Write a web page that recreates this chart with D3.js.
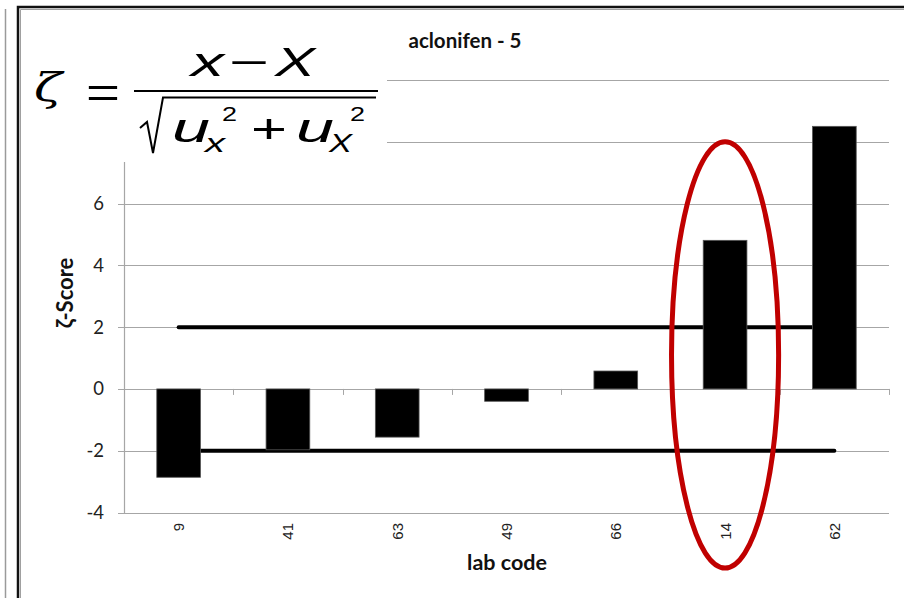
<!DOCTYPE html>
<html>
<head>
<meta charset="utf-8">
<script src="https://cdn.jsdelivr.net/npm/d3@7"></script>
<style>
  html, body { margin: 0; padding: 0; background: #fff; }
  svg { display: block; }
</style>
</head>
<body>
<svg id="chart" width="904" height="598"></svg>
<script>
// ---- data ----
const labCodes = ["9", "41", "63", "49", "66", "14", "62"];
const zScores = [-2.86, -1.97, -1.56, -0.40, 0.58, 4.81, 8.50];
const upperLimit = [2, 2, 2, 2, 2, 2, 2];
const lowerLimit = [-2, -2, -2, -2, -2, -2, -2];
const yTicks = [-4, -2, 0, 2, 4, 6, 8, 10];
const yTickLabels = ["-4", "-2", "0", "2", "4", "6", "8", "10"];
const chartTitle = "aclonifen - 5";
const xTitle = "lab code";
const yTitle = "ζ-Score";
const highlighted = "14";

const svg = d3.select("#chart");

// outer frame
svg.append("line").attr("x1", 5.5).attr("x2", 5.5).attr("y1", 9).attr("y2", 598)
  .attr("stroke", "#9a9a9a").attr("stroke-width", 1.5);
svg.append("path").attr("d", "M18,598 V7 H904").attr("fill", "none")
  .attr("stroke", "#111").attr("stroke-width", 2.5);
svg.append("path").attr("d", "M20.5,598 V9.5 H904").attr("fill", "none")
  .attr("stroke", "#a0a0a0").attr("stroke-width", 1);

// scales
const x = d3.scaleBand().domain(labCodes).range([124, 889]).padding(0);
const y = d3.scaleLinear().domain([-4, 10]).range([512.5, 80]);
const barW = x.bandwidth() * 0.4;
const cx = d => x(d) + x.bandwidth() / 2;

const grid = "#a6a6a6";

// gridlines + y ticks
svg.append("g").selectAll("line").data(yTicks).join("line")
  .attr("x1", 118).attr("x2", 889)
  .attr("y1", d => Math.round(y(d)) + 0.5).attr("y2", d => Math.round(y(d)) + 0.5)
  .attr("stroke", grid).attr("stroke-width", 1.2);

// y axis line
svg.append("line").attr("x1", 124.5).attr("x2", 124.5)
  .attr("y1", y(10)).attr("y2", y(-4) + 0.5)
  .attr("stroke", grid).attr("stroke-width", 1.2);

// x tick marks at y=0
const bounds = d3.range(labCodes.length + 1).map(i => 124 + i * x.step());
svg.append("g").selectAll("line").data(bounds).join("line")
  .attr("x1", d => Math.round(d) + 0.5).attr("x2", d => Math.round(d) + 0.5)
  .attr("y1", y(0)).attr("y2", y(0) + 6)
  .attr("stroke", grid).attr("stroke-width", 1);

// y tick labels
svg.append("g").selectAll("text").data(yTicks.filter(d => d <= 6)).join("text")
  .attr("x", 104).attr("y", d => y(d) + 6.5)
  .attr("text-anchor", "end")
  .attr("font-family", "Lato, 'Open Sans', sans-serif").attr("font-size", 18.5)
  .attr("fill", "#222")
  .text(d => yTickLabels[yTicks.indexOf(d)]);

// limit lines
const line = d3.line().x((d, i) => cx(labCodes[i])).y(d => y(d));
svg.append("path").datum(upperLimit).attr("d", line)
  .attr("fill", "none").attr("stroke", "#000").attr("stroke-width", 4).attr("stroke-linecap", "round");
svg.append("path").datum(lowerLimit).attr("d", line)
  .attr("fill", "none").attr("stroke", "#000").attr("stroke-width", 4).attr("stroke-linecap", "round");

// bars
svg.append("g").selectAll("rect").data(zScores).join("rect")
  .attr("x", (d, i) => cx(labCodes[i]) - barW / 2)
  .attr("width", barW)
  .attr("y", d => Math.min(y(d), y(0)))
  .attr("height", d => Math.abs(y(d) - y(0)))
  .attr("fill", "#000").attr("stroke", "#555").attr("stroke-width", 0.8);

// x tick labels (rotated)
svg.append("g").selectAll("text").data(labCodes).join("text")
  .attr("transform", d => `translate(${cx(d) + 5.5},523) rotate(-90)`)
  .attr("text-anchor", "end")
  .attr("font-family", "'Liberation Sans', Arial, sans-serif").attr("font-size", 15)
  .attr("fill", "#222")
  .text(d => d);

// titles
svg.append("text").attr("x", 465).attr("y", 48).attr("text-anchor", "middle")
  .attr("font-family", "Lato, 'Open Sans', sans-serif").attr("font-weight", "bold").attr("font-size", 20.5)
  .attr("fill", "#111").text(chartTitle);
svg.append("text").attr("x", 507).attr("y", 570).attr("text-anchor", "middle")
  .attr("font-family", "Lato, 'Open Sans', sans-serif").attr("font-weight", "bold").attr("font-size", 21.5)
  .attr("fill", "#111").text(xTitle);
svg.append("text").attr("transform", "translate(73,293) rotate(-90)").attr("text-anchor", "middle")
  .attr("font-family", "Lato, 'Open Sans', sans-serif").attr("font-weight", "bold").attr("font-size", 22)
  .attr("fill", "#111").text(yTitle);

// highlight ellipse
svg.append("ellipse")
  .attr("cx", cx(highlighted)).attr("cy", (y(8) + y(-5.8)) / 2)
  .attr("rx", x.bandwidth() * 0.49).attr("ry", (y(-5.8) - y(8)) / 2)
  .attr("fill", "none").attr("stroke", "#c00000").attr("stroke-width", 5);

// formula box (white image overlay)
const f = svg.append("g");
f.append("rect").attr("x", 21).attr("y", 10).attr("width", 366).attr("height", 152).attr("fill", "#fff");
const sans = "'Liberation Sans', Arial, sans-serif";
function piece(txt, px, py, size, len, italic, family) {
  const t = f.append("text").attr("x", px).attr("y", py)
    .attr("font-family", family || sans).attr("font-size", size).attr("fill", "#000")
    .attr("textLength", len).attr("lengthAdjust", "spacingAndGlyphs").text(txt);
  if (italic) t.attr("font-style", "italic");
  return t;
}
piece("ζ", 34, 101, 40, 28, true, "'DejaVu Serif', serif");
piece("=", 86, 107, 42, 34, false);
f.append("line").attr("x1", 134).attr("x2", 378).attr("y1", 91).attr("y2", 91)
  .attr("stroke", "#000").attr("stroke-width", 2);
piece("x", 191, 76, 40, 33, true);
piece("−", 229, 76, 40, 40, false);
piece("X", 275, 76, 40, 40, true);
f.append("path").attr("d", "M140,128 L147,122 L153,153 L163,97.5 L376,97.5")
  .attr("fill", "none").attr("stroke", "#000").attr("stroke-width", 2);
piece("u", 172, 142, 40, 38, true);
piece("x", 205, 152, 26, 20, true);
piece("2", 222, 121, 20, 15, false);
piece("+", 251, 143, 40, 36, false);
piece("u", 296, 142, 40, 38, true);
piece("X", 329, 152, 26, 23, true);
piece("2", 350, 121, 20, 15, false);
</script>
</body>
</html>
